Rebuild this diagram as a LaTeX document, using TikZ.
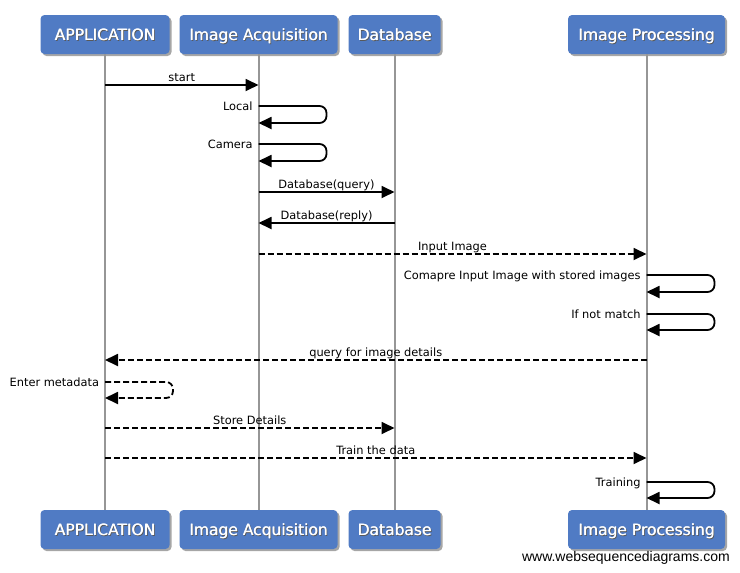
\documentclass[tikz,border=0pt]{standalone}
\usepackage{fontspec}
\setmainfont{DejaVu Sans}
\newfontfamily\wmfont{Liberation Sans}
\usetikzlibrary{arrows.meta,shadows}
\definecolor{boxblue}{RGB}{80,123,196}
\definecolor{lifegray}{RGB}{150,150,150}
\newcommand{\shtext}[1]{\makebox[0pt][l]{\hspace{1.1pt}\raisebox{-1.1pt}{\color{black!65}#1}}\makebox[0pt][l]{\hspace{0.35pt}#1}#1}
\tikzset{
  actor/.style={rectangle, rounded corners=4pt, fill=boxblue, text=white,
    font=\fontsize{15.5}{18}\selectfont, minimum height=39pt, inner xsep=0pt,
    text height=11.5pt, text depth=0pt,
    drop shadow={shadow xshift=2pt, shadow yshift=-2pt, fill=black, opacity=.35}},
  life/.style={draw=lifegray, line width=2pt},
  msg/.style={line width=1.8pt, -{Triangle[length=13pt,width=12pt]}},
  dmsg/.style={msg, dash pattern=on 6pt off 3pt},
  lbl/.style={font=\fontsize{11.4}{13}\selectfont, text height=8.5pt, text depth=2.5pt, inner sep=1pt},
  mlbl/.style={lbl, above=-0.5pt},
  selflbl/.style={lbl, anchor=east, xshift=-4pt, yshift=-1.5pt},
  wm/.style={font=\wmfont\fontsize{14}{16}\selectfont, anchor=east, inner sep=0pt}
}
\begin{document}
\begin{tikzpicture}[x=1pt,y=-1pt]
\useasboundingbox (0,0) rectangle (740,573);
\def\xA{105}\def\xB{258.5}\def\xC{394.5}\def\xD{646.5}
% top actors
\node[actor, minimum width=129pt] (tA) at (\xA,34.5) {\shtext{APPLICATION}};
\node[actor, minimum width=158pt] (tB) at (\xB,34.5) {\shtext{Image Acquisition}};
\node[actor, minimum width=92pt] (tC) at (\xC,34.5) {\shtext{Database}};
\node[actor, minimum width=157pt] (tD) at (\xD,34.5) {\shtext{Image Processing}};
% bottom actors
\node[actor, minimum width=129pt] (bA) at (\xA,529.5) {\shtext{APPLICATION}};
\node[actor, minimum width=158pt] (bB) at (\xB,529.5) {\shtext{Image Acquisition}};
\node[actor, minimum width=92pt] (bC) at (\xC,529.5) {\shtext{Database}};
\node[actor, minimum width=157pt] (bD) at (\xD,529.5) {\shtext{Image Processing}};
% lifelines
\draw[life] (tA.south) -- (bA.north);
\draw[life] (tB.south) -- (bB.north);
\draw[life] (tC.south) -- (bC.north);
\draw[life] (tD.south) -- (bD.north);
% message end points
\coordinate (m1a) at (\xA,85);  \coordinate (m1b) at (\xB,85);
\coordinate (s1a) at (\xB,106); \coordinate (s1b) at (\xB,123);
\coordinate (s2a) at (\xB,144); \coordinate (s2b) at (\xB,161);
\coordinate (m2a) at (\xB,192); \coordinate (m2b) at (\xC,192);
\coordinate (m3a) at (\xC,223); \coordinate (m3b) at (\xB,223);
\coordinate (m4a) at (\xB,254); \coordinate (m4b) at (\xD,254);
\coordinate (s3a) at (\xD,275); \coordinate (s3b) at (\xD,292);
\coordinate (s4a) at (\xD,314); \coordinate (s4b) at (\xD,330);
\coordinate (m5a) at (\xD,360); \coordinate (m5b) at (\xA,360);
\coordinate (s5a) at (\xA,382); \coordinate (s5b) at (\xA,398);
\coordinate (m6a) at (\xA,428); \coordinate (m6b) at (\xC,428);
\coordinate (m7a) at (\xA,458); \coordinate (m7b) at (\xD,458);
\coordinate (s6a) at (\xD,482); \coordinate (s6b) at (\xD,498);
% messages
\draw[msg] (m1a) -- node[mlbl]{start} (m1b);
\draw[msg, rounded corners=7pt] (s1a) node[selflbl]{Local} -- ++(68,0) |- (s1b);
\draw[msg, rounded corners=7pt] (s2a) node[selflbl]{Camera} -- ++(68,0) |- (s2b);
\draw[msg] (m2a) -- node[mlbl]{Database(query)} (m2b);
\draw[msg] (m3a) -- node[mlbl]{Database(reply)} (m3b);
\draw[dmsg] (m4a) -- node[mlbl]{Input Image} (m4b);
\draw[msg, rounded corners=7pt] (s3a) node[selflbl]{Comapre Input Image with stored images} -- ++(68,0) |- (s3b);
\draw[msg, rounded corners=7pt] (s4a) node[selflbl]{If not match} -- ++(68,0) |- (s4b);
\draw[dmsg] (m5a) -- node[mlbl]{query for image details} (m5b);
\draw[dmsg, rounded corners=7pt] (s5a) node[selflbl]{Enter metadata} -- ++(68,0) |- (s5b);
\draw[dmsg] (m6a) -- node[mlbl]{Store Details} (m6b);
\draw[dmsg] (m7a) -- node[mlbl]{Train the data} (m7b);
\draw[msg, rounded corners=7pt] (s6a) node[selflbl]{Training} -- ++(68,0) |- (s6b);
% watermark
\node[wm] (wmk) at (730,558) {www.websequencediagrams.com};
\end{tikzpicture}
\end{document}
